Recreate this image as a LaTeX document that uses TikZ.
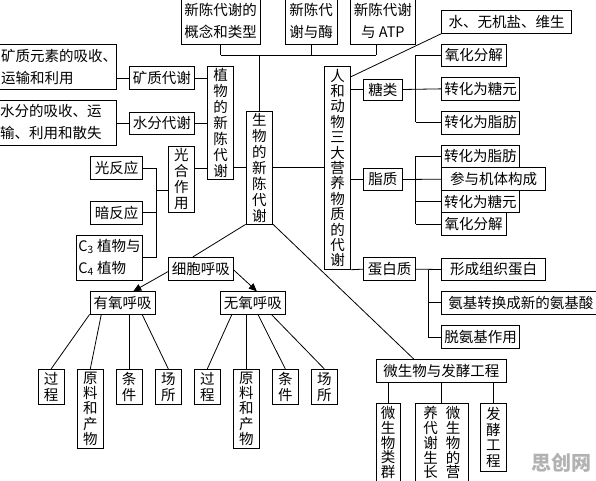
\documentclass[tikz,border=0pt]{standalone}
\usepackage{fontspec}
\setmainfont{Noto Sans CJK SC}
\usetikzlibrary{arrows.meta,calc}
\tikzset{
 box/.style={draw, line width=0.8pt, inner sep=0pt, align=center, font=\fontsize{14.5}{22}\selectfont},
 vv/.style={font=\fontsize{14.5}{16}\selectfont},
 vw/.style={font=\fontsize{14.5}{15.4}\selectfont},
 vn/.style={font=\fontsize{14.5}{14.8}\selectfont},
 txt/.style={inner sep=0pt, align=left, font=\fontsize{14.5}{22}\selectfont},
 ln/.style={line width=0.8pt},
 arr/.style={ln, -{Triangle[length=8pt,width=7pt]}},
 wm/.style={inner sep=0pt, text=black!30, font=\fontsize{20}{22}\selectfont\bfseries},
}
\newcommand\bx[7][]{\node[box,#1,minimum width={(#5-#3)*1pt},minimum height={(#6-#4)*1pt}] (#2) at ({(#3+#5)/2},{-(#4+#6)/2}) {#7};}
\begin{document}
\begin{tikzpicture}[x=1pt,y=1pt]
\useasboundingbox (0,0) rectangle (596,-481);
\clip (0,0) rectangle (596,-481);
% top row
\bx{t1}{181}{-2}{260}{44}{新陈代谢的\\概念和类型}
\bx{t2}{285}{-2}{337.3}{44}{新陈代\\谢与酶}
\bx{t3}{350}{-2}{415.7}{44}{新陈代谢\\与 ATP}
% centre
\bx[vv]{sw}{246}{111.7}{272.7}{224}{生\\物\\的\\新\\陈\\代\\谢}
\bx[vv]{zw}{207.7}{66}{233.3}{179}{植\\物\\的\\新\\陈\\代\\谢}
\bx[vw]{rh}{324.3}{66.7}{350.7}{269.3}{人\\和\\动\\物\\三\\大\\营\\养\\物\\质\\的\\代\\谢}
% right side
\bx{wjy}{441.7}{10.7}{571.7}{33.3}{水、无机盐、维生}
\bx{tl}{363.3}{79}{402.3}{100}{糖类}
\bx{ty1}{441.7}{44.3}{506}{66.7}{氧化分解}
\bx{ty2}{441.7}{77.7}{519.3}{100}{转化为糖元}
\bx{ty3}{441.7}{111}{519.3}{134}{转化为脂肪}
\bx{zz}{363.3}{168.3}{402.3}{190.7}{脂质}
\bx{zz1}{441.3}{145}{519.3}{167.7}{转化为脂肪}
\bx{zz2}{441.3}{167.7}{545.7}{190.7}{参与机体构成}
\bx{zz3}{441.3}{190.7}{519.3}{212.7}{转化为糖元}
\bx{zz4}{441.3}{212.7}{506}{235.7}{氧化分解}
\bx{db}{363.3}{257.7}{415.7}{280.7}{蛋白质}
\bx{db1}{441.7}{258.3}{545.7}{280.7}{形成组织蛋白}
\bx{db2}{441.7}{291.7}{600}{314}{氨基转换成新的氨基酸}
\bx{db3}{441.7}{325.7}{519.3}{348.3}{脱氨基作用}
% left side
\bx{kzys}{-20}{44.3}{116.7}{89}{}
\node[txt, anchor=west] (kzyst) at (1,-66.5) {矿质元素的吸收、\\运输和利用};
\bx{kz}{129.3}{66.7}{194.3}{89.3}{矿质代谢}
\bx{sfys}{-20}{100}{116.7}{145}{}
\node[txt, anchor=west] (sfyst) at (0,-121.5) {水分的吸收、运\\输、利用和散失};
\bx{sf}{129.3}{112.3}{194.3}{134.3}{水分代谢}
\bx[vv]{gh}{168.3}{146}{194.3}{212.7}{光\\合\\作\\用}
\bx{gf}{90.7}{156.7}{142.3}{179.3}{光反应}
\bx{af}{90.7}{201.7}{142.3}{224}{暗反应}
\bx[align=left]{c34}{76.7}{235}{142.3}{280}{C\textsubscript{3} 植物与\\C\textsubscript{4} 植物}
% respiration
\bx{xb}{168.3}{257.3}{233.3}{280}{细胞呼吸}
\bx{yy}{90}{291.7}{155.3}{314}{有氧呼吸}
\bx{wy}{220}{291.7}{285.7}{314}{无氧呼吸}
\bx[vv]{gc1}{38.3}{369.3}{64}{404}{过\\程}
\bx[vw]{yl1}{77.3}{369.3}{103.3}{448.3}{原\\料\\和\\产\\物}
\bx[vv]{tj1}{116}{369.3}{142.3}{404}{条\\件}
\bx[vv]{cs1}{155.3}{369.3}{181.3}{404}{场\\所}
\bx[vv]{gc2}{194.3}{369.3}{220.3}{404}{过\\程}
\bx[vw]{yl2}{233.3}{369.3}{259.3}{448.3}{原\\料\\和\\产\\物}
\bx[vv]{tj2}{272.3}{369.3}{298.3}{404}{条\\件}
\bx[vv]{cs2}{311.3}{369.3}{337.3}{404}{场\\所}
% microbes
\bx{wsw}{376}{359.3}{506.7}{382.3}{微生物与发酵工程}
\bx[vn]{ws1}{376}{403.3}{400}{482}{微\\生\\物\\类\\群}
\bx[vn]{ws2}{415.3}{403.3}{468.3}{482}{养\hspace{8pt}微\\代\hspace{8pt}生\\谢\hspace{8pt}物\\生\hspace{8pt}的\\长\hspace{8pt}营}
\bx[vw]{ws3}{480}{403.3}{506.7}{471.7}{发\\酵\\工\\程}
\node[wm, anchor=west] (wmk) at (531,-463) {思创网};
% connectors: top
\coordinate (tj) at (sw.north |- 0,-55);
\draw[ln] (t1.south) -- (t1.south |- tj);
\draw[ln] (t2.south) -- (t2.south |- tj);
\draw[ln] (t3.south -| 376,0) -- (376,-55);
\draw[ln] (t1.south |- tj) -- (376,-55);
\draw[ln] (tj) -- (sw.north);
% centre
\draw[ln] (sw.west) -- (zw.east |- sw.west);
\draw[ln] (sw.east) -- (rh.west |- sw.east);
% plant
\draw[ln] (kz.west) -- (kzys.east |- kz.west);
\draw[ln] (kz.east) -- (zw.west |- kz.east);
\draw[ln] (sf.west) -- (sfys.east |- sf.west);
\draw[ln] (sf.east) -- (zw.west |- sf.east);
\draw[ln] (gh.east |- 0,-168.3) -- (zw.west |- 0,-168.3);
\coordinate (gb) at (156,-190.7);
\draw[ln] (gh.west |- gb) -- (gb);
\draw[ln] (gb |- gf.east) -- (gb |- c34.east);
\draw[ln] (gf.east) -- (gb |- gf.east);
\draw[ln] (af.east) -- (gb |- af.east);
\draw[ln] (c34.east) -- (gb |- c34.east);
% human and animal
\draw[ln] (rh.north east |- 0,-76.7) -- (wjy.south west);
\coordinate (tb) at (415.7,0);
\draw[ln] (rh.east |- tl.west) -- (tl.west);
\draw[ln] (tl.east) -- (ty2.west);
\draw[ln] (tb |- ty1.west) -- (tb |- ty3.west);
\draw[ln] (tb |- ty1.west) -- (ty1.west);
\draw[ln] (tb |- ty3.west) -- (ty3.west);
\draw[ln] (rh.east |- zz.west) -- (zz.west);
\draw[ln] (zz.east) -- (zz2.west);
\draw[ln] (tb |- zz1.west) -- (tb |- zz4.west);
\draw[ln] (tb |- zz1.west) -- (zz1.west);
\draw[ln] (tb |- zz3.west) -- (zz3.west);
\draw[ln] (tb |- zz4.west) -- (zz4.west);
\draw[ln] (rh.south east) -- (db.west);
\draw[ln] (db.east) -- (db1.west);
\coordinate (pb) at (428.3,0);
\draw[ln] (pb |- db1.west) -- (pb |- db3.west);
\draw[ln] (pb |- db2.west) -- (db2.west);
\draw[ln] (pb |- db3.west) -- (db3.west);
% respiration
\draw[ln] (sw.south west) -- ($(xb.north west)+(25,0)$);
\draw[arr] ($(xb.west)+(0,-3)$) -- ($(yy.north)+(10.6,0)$);
\draw[arr] ($(xb.east)+(0,-1.3)$) -- ($(wy.north)+(4,0)$);
\draw[ln] (yy.south west) -- (gc1.north);
\draw[ln] ($(yy.south west)+(11.7,0)$) -- (yl1.north);
\draw[ln] (tj1.north |- yy.south) -- (tj1.north);
\draw[ln] ($(yy.south east)+(-13.6,0)$) -- (cs1.north);
\draw[ln] ($(wy.south west)+(12.3,0)$) -- (gc2.north);
\draw[ln] (yl2.north |- wy.south) -- (yl2.north);
\draw[ln] ($(wy.south west)+(38.3,0)$) -- (tj2.north);
\draw[ln] ($(wy.south west)+(51.7,0)$) -- (cs2.north);
% microbes
\draw[ln] (sw.south east) -- ($(wsw.north west)+(38,0)$);
\draw[ln] (ws1.north |- wsw.south) -- (ws1.north);
\draw[ln] (ws2.north |- wsw.south) -- (ws2.north);
\draw[ln] (ws3.north |- wsw.south) -- (ws3.north);
\end{tikzpicture}
\end{document}
